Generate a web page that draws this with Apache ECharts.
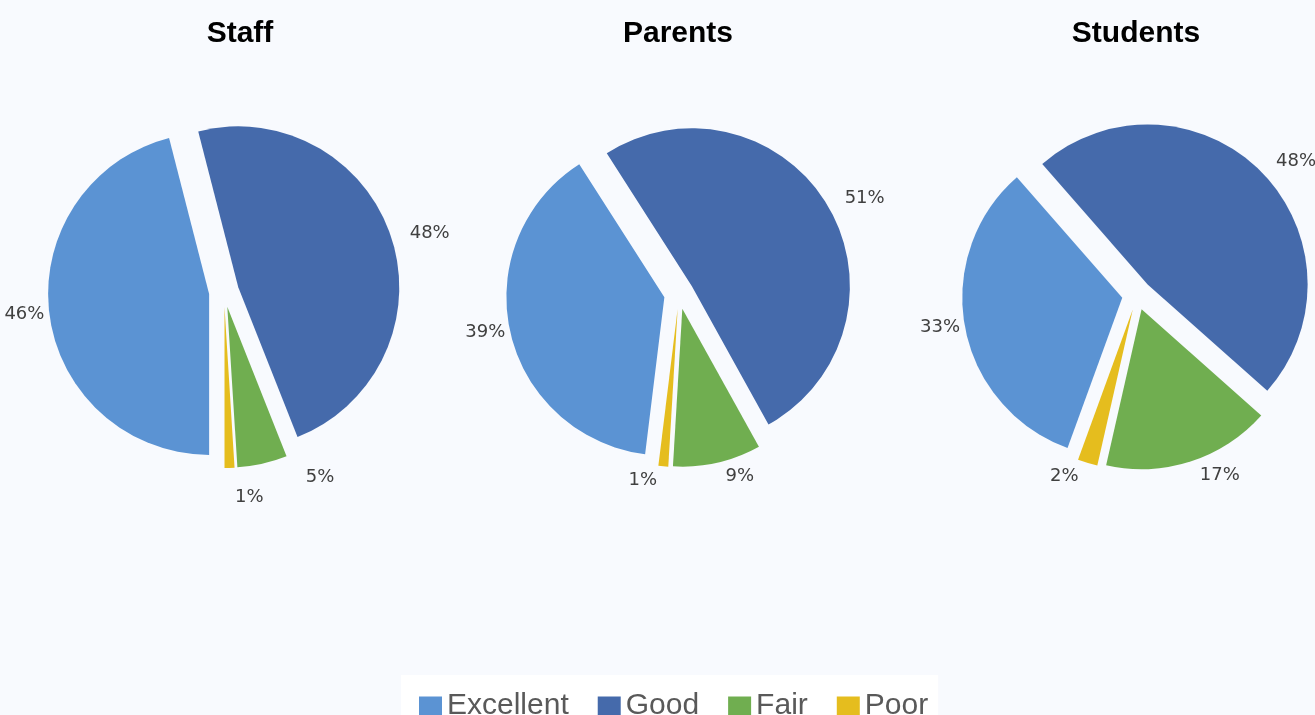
<!DOCTYPE html>
<html>
<head>
<meta charset="utf-8">
<script src="https://cdn.jsdelivr.net/npm/echarts@6/dist/echarts.min.js"></script>
<style>
  html, body { margin: 0; padding: 0; background: #f8fafe; }
  #chart { width: 1315px; height: 715px; }
</style>
</head>
<body>
<div id="chart"></div>
<script>
const categories = ['Excellent', 'Good', 'Fair', 'Poor'];
const groups = ['Staff', 'Parents', 'Students'];
const staffValues = [46, 48, 5, 1];
const parentsValues = [39, 51, 9, 1];
const studentsValues = [33, 48, 17, 2];

const colors = ['#5b93d3', '#456aab', '#70ae50', '#e5bd1e'];
// how far each category's label sits outside the slice
const labelGap = [0, 14, 14, 14];
// pie layout per group: center, radius, first slice angle (echarts startAngle)
const centers = [[224, 292], [679, 294], [1137, 295]];
const radii = [161, 158, 160];
const startAngles = [-90, -97, -110];
const titleX = [235, 673, 1131];

const chart = echarts.init(document.getElementById('chart'));

const makePie = (name, values, i) => ({
  name: name,
  type: 'pie',
  center: centers[i],
  radius: radii[i],
  startAngle: startAngles[i],
  clockwise: true,
  selectedMode: 'multiple',
  selectedOffset: 15,
  animation: false,
  emphasis: { disabled: true },
  select: { itemStyle: { borderWidth: 0 } },
  itemStyle: { borderWidth: 0 },
  label: {
    show: true,
    position: 'outside',
    formatter: '{c}%',
    fontFamily: 'DejaVu Sans',
    fontSize: 18,
    color: '#404040',
    overflow: 'none',
    bleedMargin: 0
  },
  labelLine: { show: false, length: 14, length2: 0 },
  data: categories.map((c, k) => ({
    name: c,
    value: values[k],
    selected: true,
    labelLine: { show: false, length: labelGap[k], length2: 0 }
  }))
});

const option = {
  backgroundColor: '#f8fafe',
  color: colors,
  title: groups.map((g, i) => ({
    text: g,
    left: titleX[i],
    top: 14,
    textAlign: 'center',
    textStyle: { fontFamily: 'Liberation Sans', fontSize: 30, fontWeight: 'bold', color: '#000' }
  })),
  legend: {
    data: categories,
    left: 401,
    top: 675,
    padding: [16, 10, 4, 18],
    backgroundColor: '#ffffff',
    itemWidth: 23,
    itemHeight: 19,
    itemGap: 29,
    icon: 'rect',
    selectedMode: false,
    textStyle: { fontFamily: 'Liberation Sans', fontSize: 30, color: '#595959' }
  },
  series: [
    makePie(groups[0], staffValues, 0),
    makePie(groups[1], parentsValues, 1),
    makePie(groups[2], studentsValues, 2)
  ]
};

chart.setOption(option);
</script>
</body>
</html>
